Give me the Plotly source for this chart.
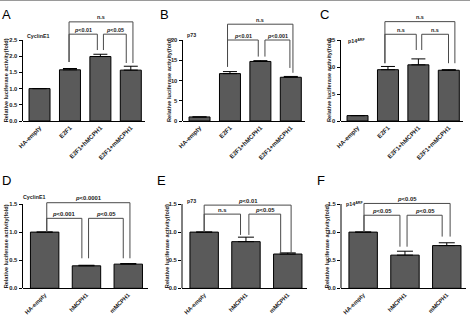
import plotly.graph_objects as go

W, H = 476, 316

# ---------------- data ----------------
CATS_TOP = ["HA-empty", "E2F1", "E2F1+hMCPH1", "E2F1+mMCPH1"]
CATS_BOT = ["HA-empty", "hMCPH1", "mMCPH1"]

A_VALS = [1.00, 1.58, 1.99, 1.57]
A_ERR = [0.00, 0.04, 0.07, 0.12]
B_VALS = [1.0, 11.7, 14.7, 10.8]
B_ERR = [0.0, 0.5, 0.2, 0.2]
C_VALS = [1.0, 9.5, 10.4, 9.4]
C_ERR = [0.0, 0.6, 1.1, 0.1]
D_VALS = [1.00, 0.40, 0.43]
D_ERR = [0.00, 0.01, 0.01]
E_VALS = [1.00, 0.83, 0.61]
E_ERR = [0.00, 0.08, 0.02]
F_VALS = [1.00, 0.59, 0.76]
F_ERR = [0.00, 0.07, 0.05]

A_TICKS = [0, 0.5, 1.0, 1.5, 2.0, 2.5]
A_TICKTEXT = ["0.0", "0.5", "1.0", "1.5", "2.0", "2.5"]
B_TICKS = [0, 5, 10, 15, 20]
B_TICKTEXT = ["0", "5", "10", "15", "20"]
C_TICKS = [0, 5, 10, 15]
C_TICKTEXT = ["0", "5", "10", "15"]
BOT_TICKS = [0, 0.5, 1.0, 1.5]
BOT_TICKTEXT = ["0.0", "0.5", "1.0", "1.5"]

GENES = ["CyclinE1", "p73", "p14<sup>ARF</sup>", "CyclinE1", "p73", "p14<sup>ARF</sup>"]
LETTERS = ["A", "B", "C", "D", "E", "F"]
YTITLE = "Relative luciferase activity(fold)"

# significance brackets: (x0, x1, y_bar, y_left_end, y_right_end, label)
BR_A = [(0.97, 3.07, 3.06, 1.82, 1.79, "n.s"),
        (0.97, 1.90, 2.68, 1.82, 2.19, "<i>p</i>&lt;0.01"),
        (2.10, 2.85, 2.68, 2.19, 1.79, "<i>p</i>&lt;0.05")]
BR_B = [(0.92, 3.07, 23.9, 13.4, 11.9, "n.s"),
        (0.92, 1.93, 20.0, 13.4, 15.9, "<i>p</i>&lt;0.01"),
        (2.15, 2.97, 20.0, 15.9, 13.1, "<i>p</i>&lt;0.001")]
BR_C = [(0.90, 3.20, 18.4, 10.7, 10.7, "n.s"),
        (0.90, 1.93, 16.06, 10.7, 13.15, "n.s"),
        (2.11, 2.99, 16.06, 13.15, 10.7, "n.s")]
BR_D = [(0.05, 2.04, 1.523, 1.0, 0.534, "<i>p</i>&lt;0.0001"),
        (0.05, 0.89, 1.245, 1.0, 0.534, "<i>p</i>&lt;0.001"),
        (1.05, 1.88, 1.245, 0.534, 0.534, "<i>p</i>&lt;0.05")]
BR_E = [(0.00, 2.08, 1.48, 1.0, 0.62, "<i>p</i>&lt;0.01"),
        (0.00, 0.87, 1.32, 1.0, 0.95, "n.s"),
        (1.07, 1.83, 1.32, 0.95, 0.62, "<i>p</i>&lt;0.05")]
BR_F = [(0.02, 2.08, 1.51, 1.0, 0.92, "<i>p</i>&lt;0.05"),
        (0.02, 0.88, 1.30, 1.0, 0.74, "<i>p</i>&lt;0.05"),
        (1.05, 1.89, 1.30, 0.74, 0.92, "<i>p</i>&lt;0.05")]

# ---------------- layout geometry (pixels) ----------------
TOP = dict(y0=121.0, ytick=40.0, ytop=15.0, xr=(-0.56, 3.45), bw=0.69, cap=7, fs=5.4, xfs=6.1)
BOT = dict(y0=288.3, ytick=204.0, ytop=197.0, xr=(-0.53, 2.46), bw=0.68, cap=8, fs=5.9, xfs=5.8)

panels = [
    dict(row=TOP, x=(22.5, 144.5), cats=CATS_TOP, vals=A_VALS, err=A_ERR, tv=A_TICKS, tt=A_TICKTEXT,
         br=BR_A, ytx=5.8, gene=(25, 36), letter=(6, 14.5)),
    dict(row=TOP, x=(182.5, 304.5), cats=CATS_TOP, vals=B_VALS, err=B_ERR, tv=B_TICKS, tt=B_TICKTEXT,
         br=BR_B, ytx=168.5, gene=(185, 35), letter=(164, 14.5)),
    dict(row=TOP, x=(340.5, 462.5), cats=CATS_TOP, vals=C_VALS, err=C_ERR, tv=C_TICKS, tt=C_TICKTEXT,
         br=BR_C, ytx=328.5, gene=(345.5, 41), letter=(324, 14.5)),
    dict(row=BOT, x=(22.5, 147.5), cats=CATS_BOT, vals=D_VALS, err=D_ERR, tv=BOT_TICKS, tt=BOT_TICKTEXT,
         br=BR_D, ytx=6.2, gene=(20.5, 197), letter=(6, 180.5)),
    dict(row=BOT, x=(182, 307), cats=CATS_BOT, vals=E_VALS, err=E_ERR, tv=BOT_TICKS, tt=BOT_TICKTEXT,
         br=BR_E, ytx=167, gene=(184.5, 201), letter=(161, 180.5)),
    dict(row=BOT, x=(341, 466), cats=CATS_BOT, vals=F_VALS, err=F_ERR, tv=BOT_TICKS, tt=BOT_TICKTEXT,
         br=BR_F, ytx=327, gene=(344, 203.5), letter=(321, 180.5)),
]

FONT = "Liberation Sans, Arial, sans-serif"
BAR_FILL = "#5a5a5a"
BR_COLOR = "#4a4a4a"
TXT = "#222222"


def fx(px):
    return px / W


def fy(px):
    return 1 - px / H


fig = go.Figure()
layout = dict(width=W, height=H, margin=dict(l=0, r=0, t=0, b=0),
              paper_bgcolor="white", plot_bgcolor="white", showlegend=False,
              font=dict(family=FONT, color="black"), bargap=0.3)
shapes, annots = [], []

for k, p in enumerate(panels, start=1):
    s = "" if k == 1 else str(k)
    row = p["row"]
    top_tick = p["tv"][-1]
    ymax = top_tick * (row["y0"] - row["ytop"]) / (row["y0"] - row["ytick"])
    xa, ya = "x" + s, "y" + s

    fig.add_trace(go.Bar(
        x=p["cats"], y=p["vals"], width=row["bw"],
        marker=dict(color=BAR_FILL, line=dict(color="black", width=1)),
        error_y=dict(type="data", array=p["err"], arrayminus=[0] * len(p["err"]),
                     symmetric=False, color="black", thickness=1, width=row["cap"]),
        xaxis=xa, yaxis=ya, hoverinfo="skip"))

    layout["xaxis" + s] = dict(
        domain=[fx(p["x"][0]), fx(p["x"][1])], anchor=ya, type="category",
        categoryorder="array", categoryarray=p["cats"], range=list(row["xr"]),
        showline=True, linecolor="black", linewidth=1, ticks="", showgrid=False,
        zeroline=False, tickangle=-45,
        tickfont=dict(size=row["xfs"], family=FONT, weight="bold", color=TXT),
        automargin=False)
    layout["yaxis" + s] = dict(
        domain=[fy(row["y0"]), fy(row["ytop"])], anchor=xa, range=[0, ymax],
        tickvals=p["tv"], ticktext=p["tt"], ticks="outside", ticklen=3,
        tickwidth=1, tickcolor="black", showline=False, showgrid=False,
        zeroline=False, tickfont=dict(size=5.8, family=FONT, weight="bold", color=TXT),
        automargin=False)

    # y axis line only up to the top tick
    shapes.append(dict(type="line", xref=xa + " domain", yref=ya, x0=0, x1=0,
                       y0=0, y1=top_tick, line=dict(color="black", width=1)))

    # brackets
    for (x0, x1, yb, yl, yr, lab) in p["br"]:
        for (a0, b0, a1, b1) in [(x0, yl, x0, yb), (x0, yb, x1, yb), (x1, yb, x1, yr)]:
            shapes.append(dict(type="line", xref=xa, yref=ya, x0=a0, y0=b0, x1=a1, y1=b1,
                               line=dict(color=BR_COLOR, width=1)))
        annots.append(dict(x=(x0 + x1) / 2, y=yb, xref=xa, yref=ya, text=lab,
                           showarrow=False, yanchor="bottom", xanchor="center",
                           font=dict(size=row["fs"], family=FONT, weight="bold", color=TXT),
                           yshift=-0.5))

    # y axis title
    annots.append(dict(x=fx(p["ytx"]), y=fy((row["y0"] + row["ytick"]) / 2),
                       xref="paper", yref="paper", text=YTITLE, textangle=-90,
                       showarrow=False, xanchor="center", yanchor="middle",
                       font=dict(size=5.6, family=FONT, weight="bold", color=TXT)))
    # gene label
    annots.append(dict(x=fx(p["gene"][0]), y=fy(p["gene"][1]), xref="paper", yref="paper",
                       text=GENES[k - 1], showarrow=False, xanchor="left", yanchor="middle",
                       font=dict(size=5.3, family=FONT, weight="bold", color=TXT)))
    # panel letter
    annots.append(dict(x=fx(p["letter"][0]), y=fy(p["letter"][1]), xref="paper", yref="paper",
                       text=LETTERS[k - 1], showarrow=False, xanchor="center", yanchor="middle",
                       font=dict(size=13, family=FONT)))

# thin frame line at top of image
shapes.append(dict(type="line", xref="paper", yref="paper", x0=0, x1=fx(470), y0=fy(0.5), y1=fy(0.5),
                   line=dict(color="#9a9a9a", width=1)))

layout["shapes"] = shapes
layout["annotations"] = annots
fig.update_layout(**layout)
fig.write_html("out.html")
